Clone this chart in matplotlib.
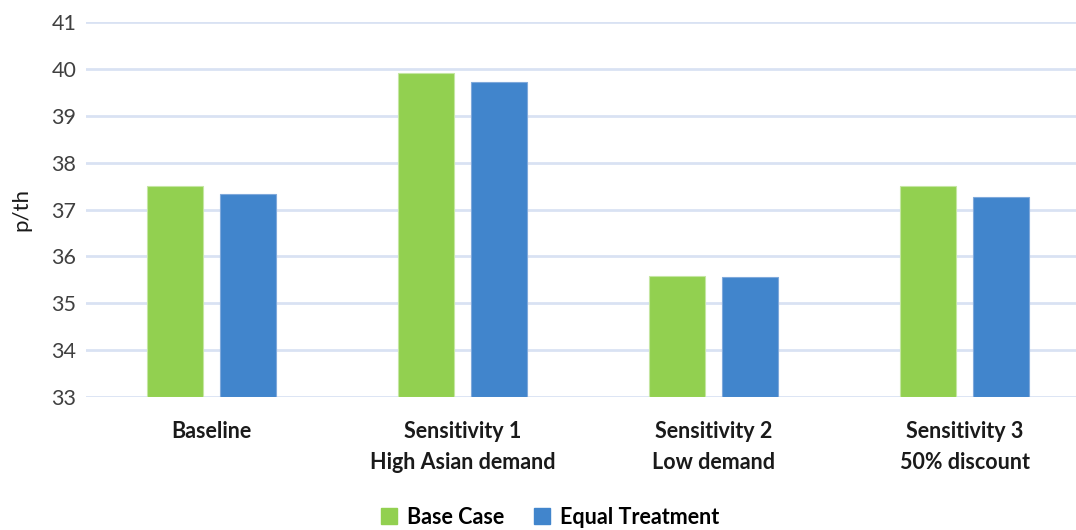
import numpy as np
import matplotlib
matplotlib.use("Agg")
import matplotlib.pyplot as plt
from matplotlib.patches import Patch

plt.rcParams["font.family"] = ["Lato", "DejaVu Sans"]

# Données (p/th)
CATEGORIES = ["Baseline",
              "Sensitivity 1\nHigh Asian demand",
              "Sensitivity 2\nLow demand",
              "Sensitivity 3\n50% discount"]
BASE_CASE = [37.50, 39.91, 35.59, 37.50]
EQUAL_TREATMENT = [37.34, 39.73, 35.57, 37.26]
SERIES = ["Base Case", "Equal Treatment"]
Y_TICKS = list(range(33, 42))

GREEN = "#92D050"
BLUE = "#4185CC"
GRID = "#D9E2F3"

fig = plt.figure(figsize=(10.76, 5.30), dpi=100)
# l'axe déborde à droite comme dans l'image d'origine (recadrée)
ax = fig.add_axes([86 / 1076, 1 - 397 / 530, 1004 / 1076, 375 / 530])

x = np.arange(len(CATEGORIES))
w = 0.223
off = 0.145
ax.bar(x - off, np.array(BASE_CASE) - 33, w, bottom=33, color=GREEN,
       edgecolor="#C5E6A3", linewidth=0.8, zorder=3)
ax.bar(x + off, np.array(EQUAL_TREATMENT) - 33, w, bottom=33, color=BLUE,
       edgecolor="#7FA9DB", linewidth=0.8, zorder=3)

ax.set_xlim(-0.5, len(CATEGORIES) - 0.5)
ax.set_ylim(33, 41)
ax.set_yticks(Y_TICKS)
ax.set_yticklabels([str(t) for t in Y_TICKS], fontsize=15.5, color="#404040")
ax.grid(axis="y", color=GRID, lw=2, zorder=0)
ax.set_axisbelow(True)
for s in ax.spines.values():
    s.set_visible(False)
ax.tick_params(axis="y", length=0, pad=7)
ax.tick_params(axis="x", length=0, pad=17)
ax.set_xticks(x)
ax.set_xticklabels(CATEGORIES, fontsize=15.5, fontweight="bold",
                   color="#1a1a1a", linespacing=1.6)
ax.set_ylabel("p/th", fontsize=16, color="#1a1a1a", labelpad=14)

handles = [Patch(color=GREEN), Patch(color=BLUE)]
fig.legend(handles, SERIES, loc="center", bbox_to_anchor=(550 / 1076, 1 - 517 / 530),
           ncol=2, frameon=False, handlelength=0.75, handleheight=0.75,
           handletextpad=0.45, columnspacing=1.4,
           prop={"size": 15.5, "weight": "bold"})

fig.savefig("out.png", dpi=100)
